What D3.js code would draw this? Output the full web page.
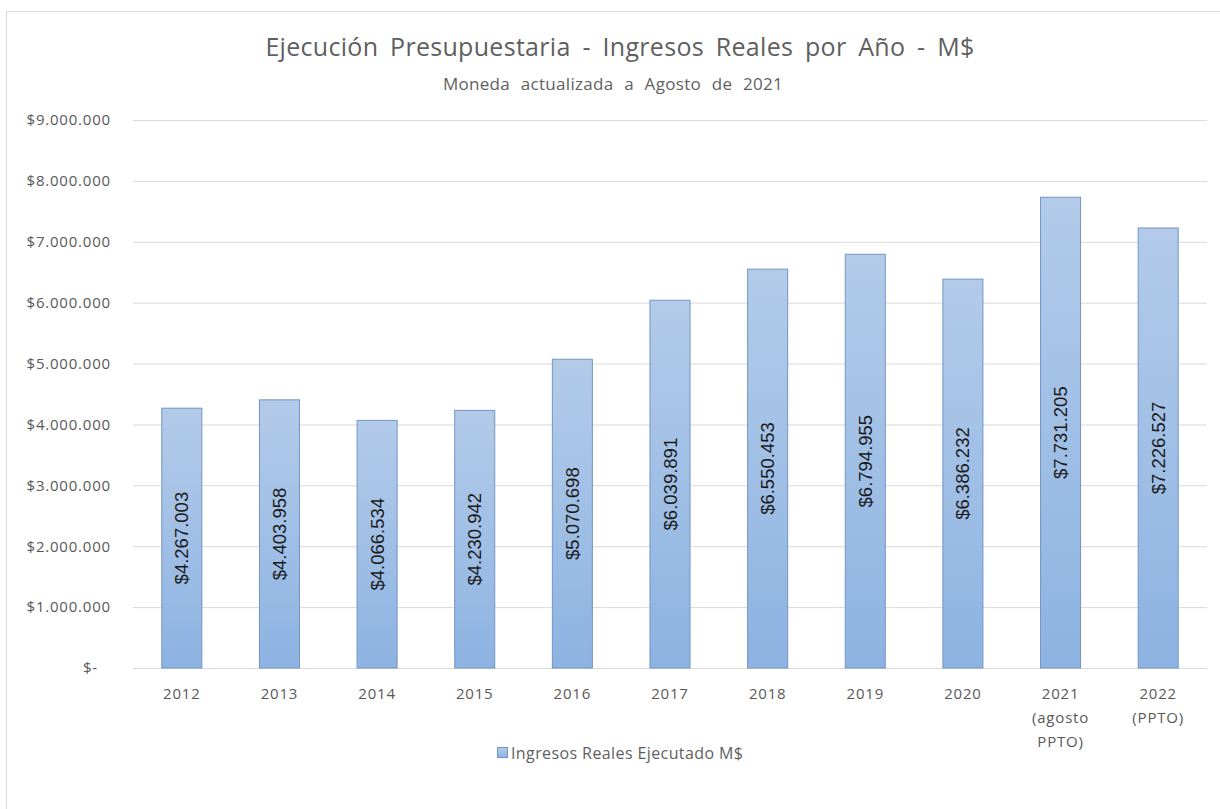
<!DOCTYPE html>
<html>
<head>
<meta charset="utf-8">
<script src="https://cdn.jsdelivr.net/npm/d3@7"></script>
<style>
  body { margin: 0; background: #fff; }
  text { font-family: "Open Sans", "Noto Sans", sans-serif; }
  .tick-label { fill: #595959; font-size: 15px; }
  .bar-label { fill: #1a1a1a; font-size: 18.5px; font-family: "Liberation Sans", Arial, sans-serif; }
</style>
</head>
<body>
<div id="viz"></div>
<script>
const years = ["2012", "2013", "2014", "2015", "2016", "2017", "2018", "2019", "2020", "2021", "2022"];
const yearNotes = [[], [], [], [], [], [], [], [], [], ["(agosto", "PPTO)"], ["(PPTO)"]];
const ingresos = [4267003, 4403958, 4066534, 4230942, 5070698, 6039891, 6550453, 6794955, 6386232, 7731205, 7226527];
const yTicks = [0, 1000000, 2000000, 3000000, 4000000, 5000000, 6000000, 7000000, 8000000, 9000000];
const title = "Ejecución Presupuestaria  - Ingresos Reales por Año - M$";
const subtitle = "Moneda actualizada a Agosto de 2021";
const seriesName = "Ingresos Reales Ejecutado M$";

const width = 1220;
const height = 809;
const plot = { left: 133, right: 1207, top: 120, bottom: 668 };

const svg = d3.select("#viz")
    .append("svg")
    .attr("width", width)
    .attr("height", height);

// bar gradient
const grad = svg.append("defs")
    .append("linearGradient")
    .attr("id", "barGrad")
    .attr("x1", 0).attr("y1", 0)
    .attr("x2", 0).attr("y2", 1);
grad.append("stop").attr("offset", "0%").attr("stop-color", "#b3cbe9");
grad.append("stop").attr("offset", "100%").attr("stop-color", "#8db3e2");

// chart frame
svg.append("rect")
    .attr("x", 6.5)
    .attr("y", 11.5)
    .attr("width", width + 20)
    .attr("height", height + 20)
    .attr("fill", "#fff")
    .attr("stroke", "#d9d9d9");

const x = d3.scaleBand()
    .domain(years)
    .range([plot.left, plot.right])
    .paddingInner(0.59)
    .paddingOuter(0.295);

const y = d3.scaleLinear()
    .domain([0, 9000000])
    .range([plot.bottom, plot.top]);

const fmt = v => "$" + d3.format(",")(v).replace(/,/g, ".");

// titles
svg.append("text")
    .attr("x", 620)
    .attr("y", 56)
    .attr("text-anchor", "middle")
    .style("font-size", "25px")
    .style("fill", "#5f5f5f")
    .style("letter-spacing", "0.3px")
    .style("word-spacing", "5px")
    .text(title);

svg.append("text")
    .attr("x", 613)
    .attr("y", 90)
    .attr("text-anchor", "middle")
    .style("font-size", "17px")
    .style("fill", "#5f5f5f")
    .style("letter-spacing", "0.3px")
    .style("word-spacing", "6px")
    .text(subtitle);

// gridlines + y labels
const yAxis = d3.axisLeft(y)
    .tickValues(yTicks)
    .tickSize(-(plot.right - plot.left))
    .tickPadding(22)
    .tickFormat(d => d === 0 ? "$-" : fmt(d));

const gy = svg.append("g")
    .attr("transform", "translate(" + plot.left + ",0)")
    .call(yAxis);
gy.select(".domain").remove();
gy.selectAll("line").attr("stroke", "#d9d9d9");
gy.selectAll("text")
    .attr("class", "tick-label")
    .attr("fill", null)
    .style("font-size", "15px")
    .style("letter-spacing", "0.8px");
gy.selectAll(".tick")
    .filter(d => d === 0)
    .select("text")
    .attr("x", -35);

// bars
svg.selectAll(".bar")
    .data(ingresos)
    .enter()
    .append("rect")
    .attr("class", "bar")
    .attr("x", (d, i) => x(years[i]))
    .attr("y", d => y(d))
    .attr("width", x.bandwidth())
    .attr("height", d => y(0) - y(d))
    .attr("fill", "url(#barGrad)")
    .attr("stroke", "#7395c6")
    .attr("stroke-width", 1);

// bar value labels
svg.selectAll(".bar-label")
    .data(ingresos)
    .enter()
    .append("text")
    .attr("class", "bar-label")
    .attr("transform", (d, i) => "translate(" + (x(years[i]) + x.bandwidth() / 2 + 6.5) + "," + (y(d) + y(0)) / 2 + ") rotate(-90)")
    .attr("text-anchor", "middle")
    .text(d => fmt(d));

// x labels
const xLabels = svg.selectAll(".x-label")
    .data(years)
    .enter()
    .append("text")
    .attr("class", "tick-label")
    .attr("text-anchor", "middle")
    .style("letter-spacing", "0.8px")
    .attr("x", d => x(d) + x.bandwidth() / 2)
    .attr("y", 699);

xLabels.each(function(d, i) {
    const t = d3.select(this);
    [d].concat(yearNotes[i]).forEach((line, k) => {
        t.append("tspan")
            .attr("x", x(d) + x.bandwidth() / 2)
            .attr("dy", k === 0 ? 0 : 24)
            .text(line);
    });
});

// legend
const legend = svg.append("g").attr("transform", "translate(497,747)");
legend.append("rect")
    .attr("x", 0.5).attr("y", 0.5)
    .attr("width", 10).attr("height", 10)
    .attr("fill", "url(#barGrad)")
    .attr("stroke", "#7395c6");
legend.append("text")
    .attr("x", 14)
    .attr("y", 12)
    .style("font-size", "16px")
    .style("letter-spacing", "0.4px")
    .style("fill", "#5f5f5f")
    .text(seriesName);
</script>
</body>
</html>
